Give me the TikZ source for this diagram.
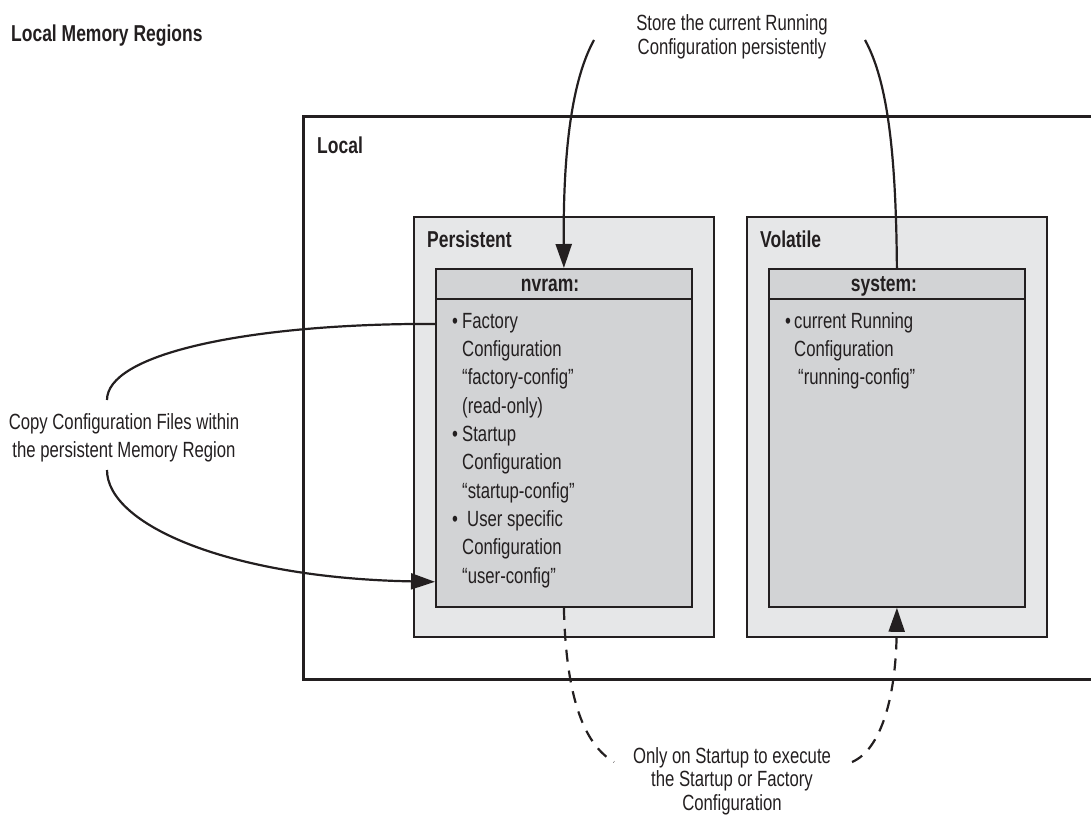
\documentclass[tikz,border=0pt]{standalone}
\usepackage{fontspec}
\setmainfont{Liberation Sans}[FakeStretch=0.76]
\usetikzlibrary{arrows.meta,calc}
\definecolor{lineblk}{HTML}{231F20}
\definecolor{outerfill}{HTML}{E6E7E8}
\definecolor{innerfill}{HTML}{D2D3D5}
\begin{document}
\begin{tikzpicture}[x=1pt,y=-1pt,
  localbox/.style={draw=lineblk, line width=3.3pt, anchor=north west, inner sep=0pt},
  regionbox/.style={draw=lineblk, line width=1.8pt, fill=outerfill, anchor=north west, inner sep=0pt, minimum width=300pt, minimum height=420pt},
  memorybox/.style={draw=lineblk, line width=1.8pt, fill=innerfill, anchor=north west, inner sep=0pt, minimum width=256pt, minimum height=338pt},
  headbox/.style={draw=lineblk, line width=1.8pt, fill=innerfill, anchor=north west, inner sep=0pt, minimum width=256pt, minimum height=30pt},
  boldlbl/.style={font=\fontsize{23}{27}\selectfont\bfseries, text=lineblk, inner sep=0pt},
  contenttxt/.style={font=\fontsize{22}{28.33}\selectfont, text=lineblk, inner sep=0pt, align=left, anchor=north west},
  labeltxt/.style={font=\fontsize{22}{24}\selectfont, text=lineblk, inner sep=0pt, align=center, anchor=north},
  conn/.style={draw=lineblk, line width=2.2pt},
  tipped/.style={-{Triangle[length=24pt,width=16pt]}},
  dashconn/.style={dash pattern=on 12pt off 9pt}
]
\useasboundingbox (0,0) rectangle (1091,814);
\clip (0,0) rectangle (1091,814);

% title
\node[boldlbl, anchor=base west] (title) at (11,41) {Local Memory Regions};

% local box
\node[localbox, minimum width=860pt, minimum height=562.5pt] (local) at (302,115) {};
\node[boldlbl, anchor=base west] (locallbl) at (317,153) {Local};

% persistent
\node[regionbox] (pers) at (413,216) {};
\node[boldlbl, anchor=base west] (perslbl) at (427,247) {Persistent};
\node[memorybox] (nvram) at (435,268) {};
\node[headbox] (nvramhead) at (435,268) {};
\node[boldlbl, anchor=base] (nvramlbl) at (550,291) {nvram:};
\node[contenttxt] (nvramtxt) at (452,308.2) {\strut\makebox[10pt][l]{•}Factory\\
\hspace*{10pt}Configuration\\
\hspace*{10pt}“factory-config”\\
\hspace*{10pt}(read-only)\\
\makebox[10pt][l]{•}Startup\\
\hspace*{10pt}Configuration\\
\hspace*{10pt}“startup-config”\\
\makebox[10pt][l]{•}\hspace*{5pt}User specific\\
\hspace*{10pt}Configuration\\
\hspace*{10pt}“user-config”};

% volatile
\node[regionbox] (vol) at (746,216) {};
\node[boldlbl, anchor=base west] (vollbl) at (760,247) {Volatile};
\node[memorybox] (system) at (768,268) {};
\node[headbox] (systemhead) at (768,268) {};
\node[boldlbl, anchor=base] (systemlbl) at (884,291) {system:};
\node[contenttxt] (systemtxt) at (785,308.2) {\strut\makebox[9pt][l]{•}current Running\\
\hspace*{9pt}Configuration\\
\hspace*{13pt}“running-config”};

% store arrow
\node[labeltxt] (storetxt) at (732,13.2) {\strut Store the current Running\\Configuration persistently};
\coordinate (storeL) at (594,40);
\coordinate (storeR) at (865,40);
\draw[conn] (systemhead.north) .. controls (896,150) and (887,80) .. (storeR);
\draw[conn, tipped] (storeL) .. controls (572,80) and (563,150) .. (nvramhead.north);

% copy arrow
\node[labeltxt, font=\fontsize{22}{28.5}\selectfont] (copytxt) at (124,409) {\strut Copy Configuration Files within\\the persistent Memory Region};
\coordinate (copyA) at (107,400);
\coordinate (copyB) at (107,470);
\draw[conn] (nvram.north west) ++(0,56) -- ++(-24,0) .. controls (240,326) and (107,355) .. (copyA);
\draw[conn, tipped] (copyB) .. controls (107,525) and (230,578) .. ($(nvram.south west)+(0,-26)$);

% startup arrow
\node[labeltxt, font=\fontsize{22}{23.5}\selectfont] (starttxt) at (732,746.5) {\strut Only on Startup to execute\\the Startup or Factory\\Configuration};
\coordinate (dashL) at (614,762);
\coordinate (dashR) at (852,762);
\draw[conn, dashconn] (nvram.south) .. controls (566,700) and (585,745) .. (dashL);
\draw[conn, dashconn, tipped] (dashR) .. controls (880,750) and (896,700) .. (system.south);
\end{tikzpicture}
\end{document}
